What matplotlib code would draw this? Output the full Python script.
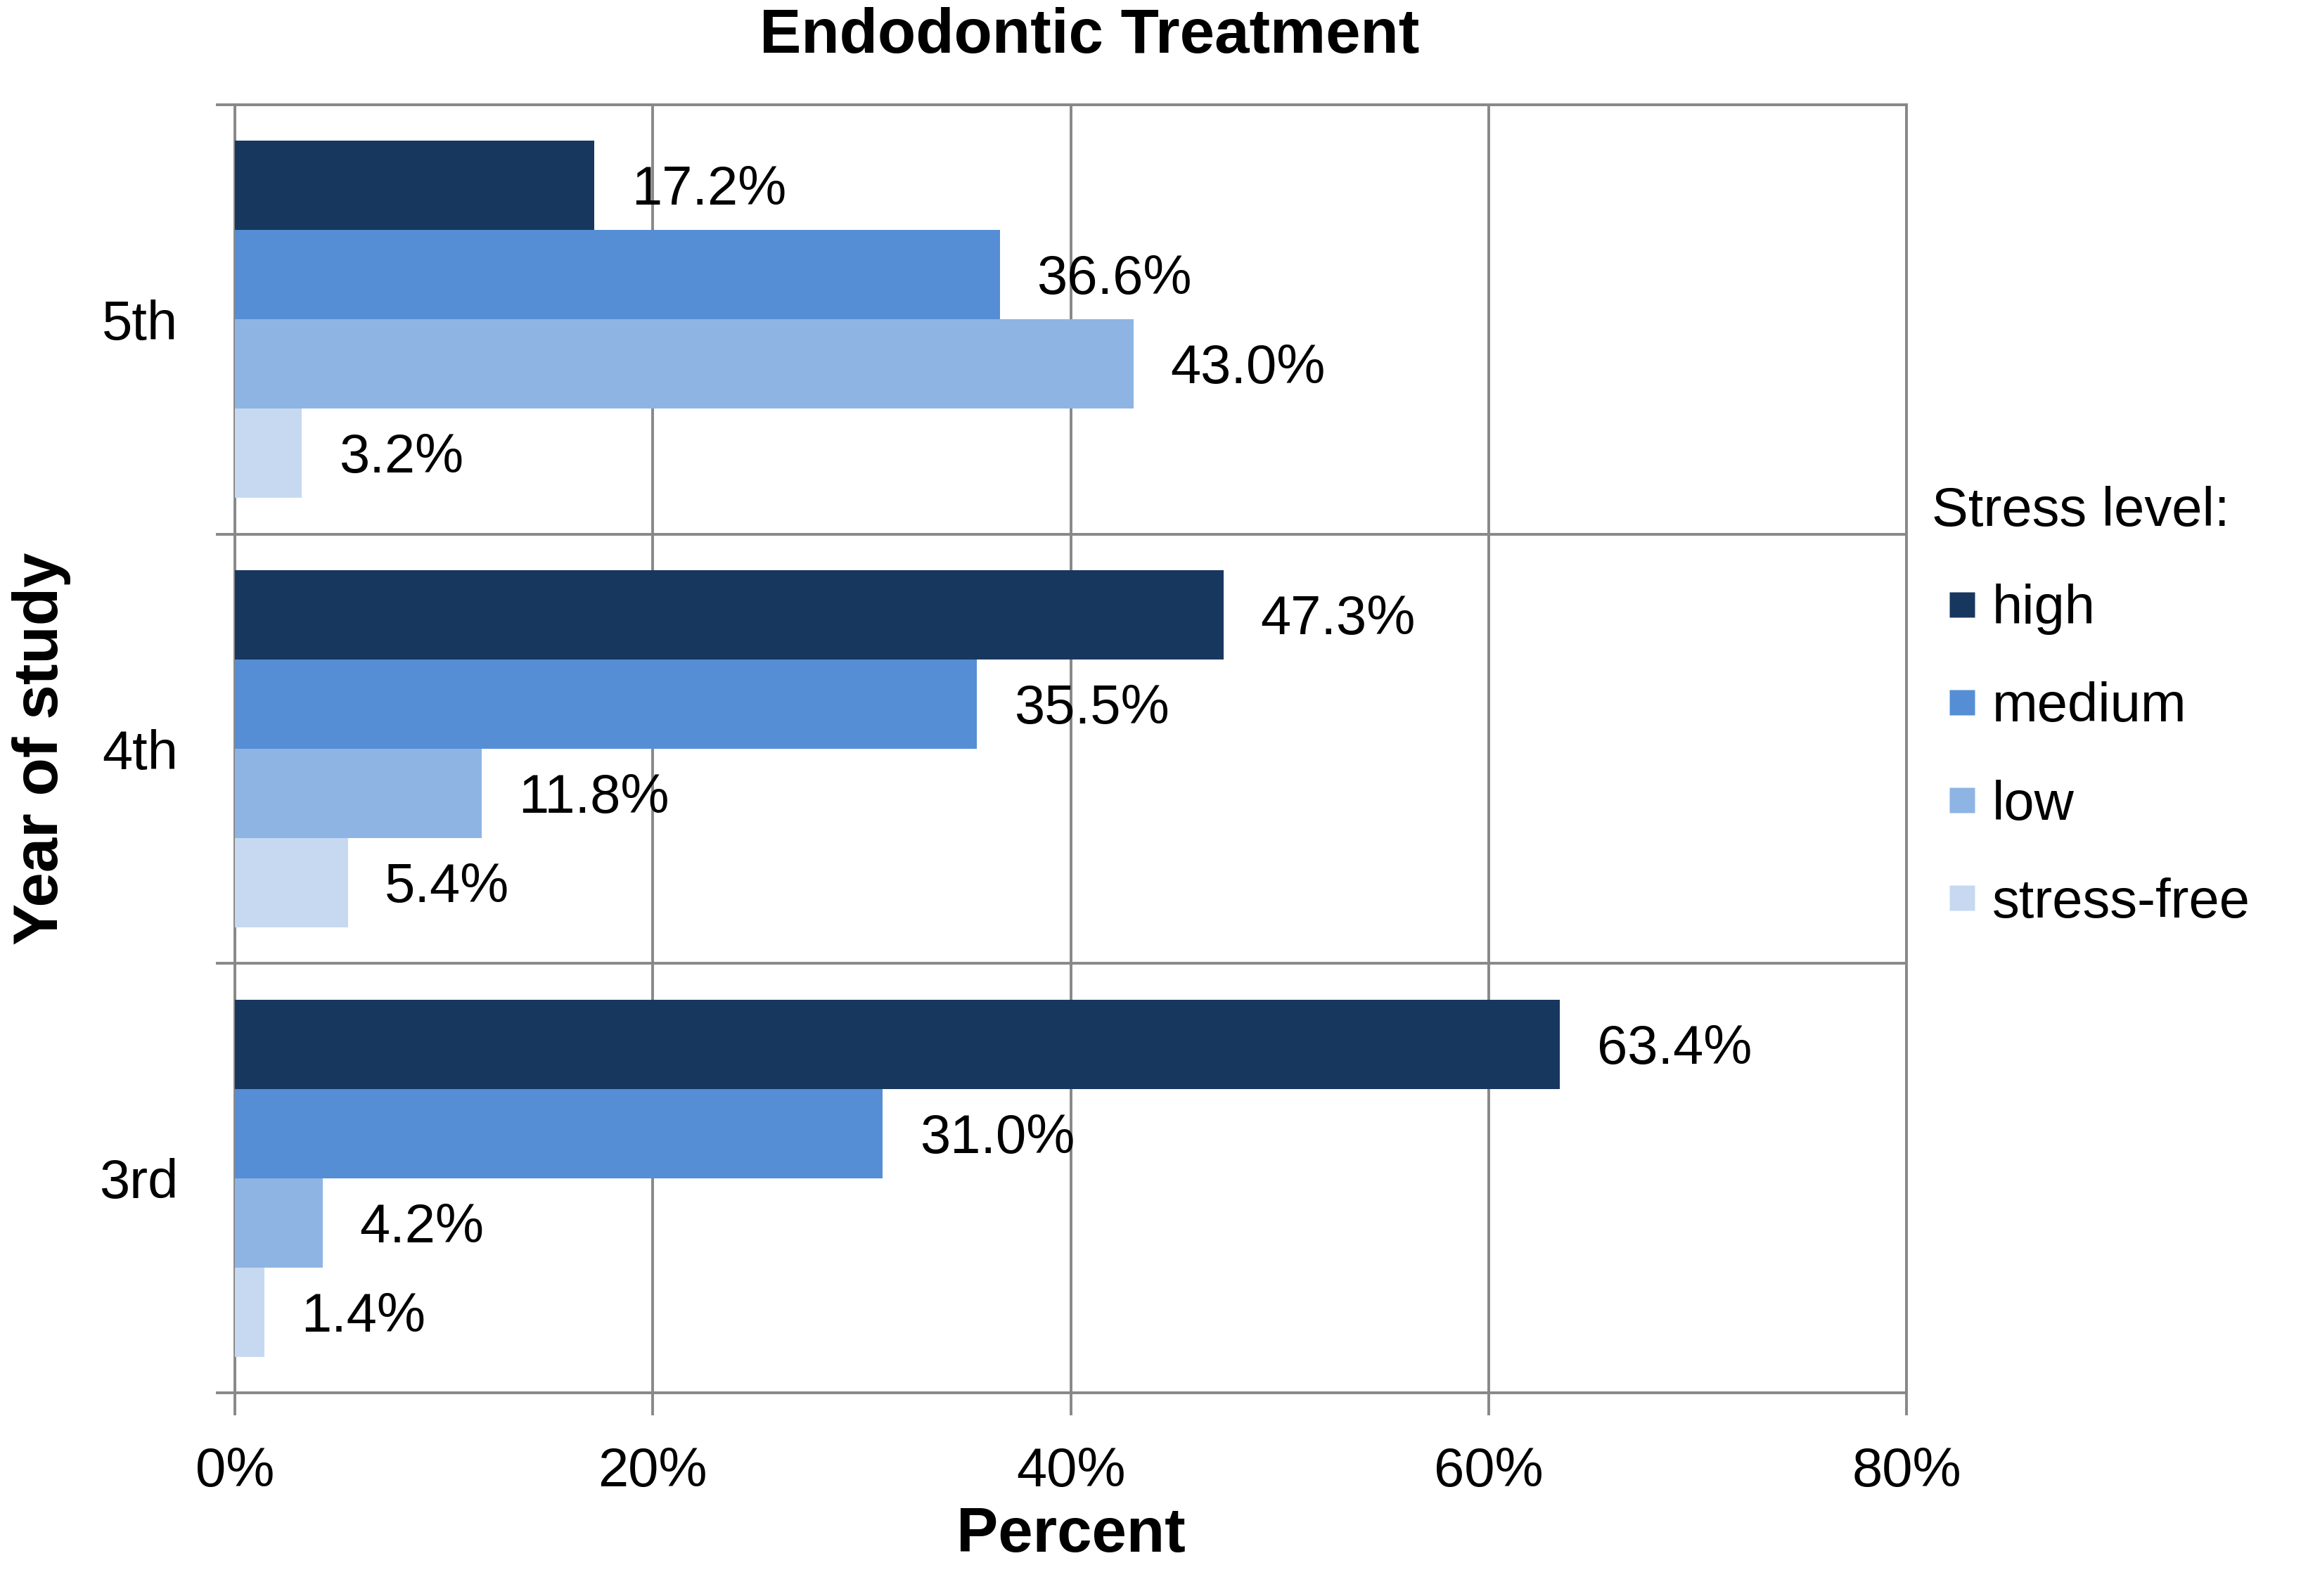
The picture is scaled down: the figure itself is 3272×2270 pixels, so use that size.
import matplotlib

matplotlib.use("Agg")
import matplotlib.pyplot as plt
from matplotlib.lines import Line2D
import numpy as np

plt.rcParams["font.family"] = ["Liberation Sans", "DejaVu Sans"]

years = ["3rd", "4th", "5th"]
levels = ["high", "medium", "low", "stress-free"]
colors = ["#17375E", "#558ED5", "#8EB4E3", "#C6D9F1"]
# percent per stress level, one value per year (3rd, 4th, 5th)
high = [63.4, 47.3, 17.2]
medium = [31.0, 35.5, 36.6]
low = [4.2, 11.8, 43.0]
stress_free = [1.4, 5.4, 3.2]
series = [high, medium, low, stress_free]
x_ticks = [0, 20, 40, 60, 80]

GRID = "#888888"

fig = plt.figure(figsize=(16.36, 11.35), dpi=200)
ax = fig.add_axes([0.1021, 0.1273, 0.7265, 0.8070])

y = np.arange(len(years))
h = 0.208
offsets = [1.5 * h, 0.5 * h, -0.5 * h, -1.5 * h]
for vals, off, col in zip(series, offsets, colors):
    bars = ax.barh(y + off, vals, height=h, color=col, edgecolor="none", zorder=3)
    for rect, v in zip(bars, vals):
        ax.annotate(f"{v:.1f}%", (rect.get_width(), rect.get_y() + rect.get_height() / 2),
                    xytext=(19, -2.5), textcoords="offset points", ha="left", va="center",
                    fontsize=28, color="black", zorder=4)

ax.set_xlim(0, 80)
ax.set_ylim(-0.5, len(years) - 0.5)
ax.set_xticks(x_ticks)
ax.set_xticklabels([f"{t}%" for t in x_ticks])
ax.set_yticks(y)
ax.set_yticklabels(years)
ax.set_yticks(np.arange(-0.5, len(years), 1.0), minor=True)

ax.tick_params(axis="x", direction="out", length=11.5, width=1.4, color=GRID, pad=16, labelsize=28)
ax.tick_params(axis="y", which="major", length=0, pad=29, labelsize=28)
ax.tick_params(axis="y", which="minor", direction="out", length=9.7, width=1.4, color=GRID)
ax.grid(axis="x", which="major", color=GRID, linewidth=1.4, zorder=0)
ax.grid(axis="y", which="minor", color=GRID, linewidth=1.4, zorder=0)
ax.set_axisbelow(True)
for side, sp in ax.spines.items():
    sp.set_color(GRID)
    sp.set_linewidth(1.4)

ax.set_xlabel("Percent", fontsize=32, fontweight="bold", labelpad=4)
ax.set_ylabel("Year of study", fontsize=32, fontweight="bold", labelpad=14.5)
fig.text(0.4734, 0.977, "Endodontic Treatment", fontsize=32, fontweight="bold",
         ha="center", va="center")

handles = [Line2D([], [], linestyle="none", marker="s", markersize=13,
                  markerfacecolor=c, markeredgecolor="none") for c in colors]
leg = ax.legend(handles, levels, title="Stress level:", loc="upper left",
                bbox_to_anchor=(0.8395, 0.6955), bbox_transform=fig.transFigure,
                frameon=False, borderpad=0, borderaxespad=0, handlelength=1.1,
                handletextpad=0.0, labelspacing=0.85, alignment="left",
                fontsize=28, title_fontsize=28)

fig.savefig("out.png")
